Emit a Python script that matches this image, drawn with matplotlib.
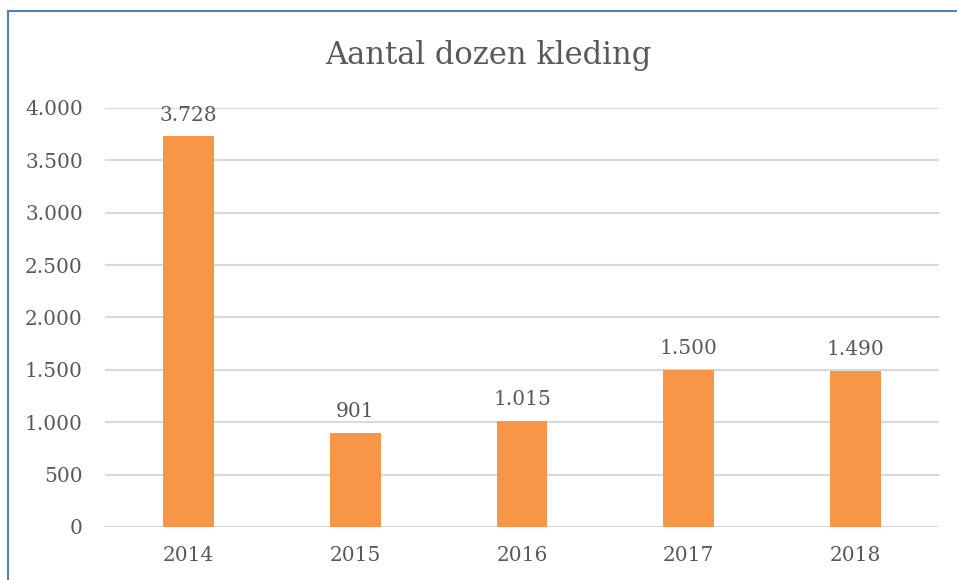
import matplotlib.pyplot as plt
from matplotlib.lines import Line2D

jaren = ['2014', '2015', '2016', '2017', '2018']
dozen = [3728, 901, 1015, 1500, 1490]
yticks = [0, 500, 1000, 1500, 2000, 2500, 3000, 3500, 4000]

def nl(v):
    return f'{v:,}'.replace(',', '.')

plt.rcParams['font.family'] = 'DejaVu Serif'
tekst = '#595959'

fig = plt.figure(figsize=(9.57, 5.8), dpi=100)
ax = fig.add_axes([0.1097, 0.0914, 0.8715, 0.7224])

x = range(len(jaren))
bars = ax.bar(x, dozen, width=0.305, color='#F79646', zorder=3)
for b, v in zip(bars, dozen):
    ax.text(b.get_x() + b.get_width() / 2, v + 110, nl(v), ha='center', va='bottom',
            fontsize=14.5, color=tekst)

ax.set_xlim(-0.5, len(jaren) - 0.5)
ax.set_ylim(0, 4000)
ax.set_yticks(yticks)
ax.set_yticklabels([nl(t) for t in yticks])
ax.set_xticks(list(x))
ax.set_xticklabels(jaren)
ax.tick_params(length=0, labelsize=14.5, labelcolor=tekst)
ax.tick_params(axis='y', pad=16)
ax.tick_params(axis='x', pad=14)
ax.yaxis.grid(True, color='#D9D9D9', linewidth=1.5, zorder=0)
for s in ax.spines.values():
    s.set_visible(False)

fig.text(0.51, 0.905, 'Aantal dozen kleding', ha='center', va='center',
         fontsize=22, color=tekst)

# kader van de grafiek
fig.add_artist(Line2D([0.0085, 1.0], [0.981, 0.981], transform=fig.transFigure,
                      color='#4F81BD', linewidth=1.5))
fig.add_artist(Line2D([0.0085, 0.0085], [0.0, 0.981], transform=fig.transFigure,
                      color='#4F81BD', linewidth=1.5))

fig.savefig('out.png', dpi=100)
